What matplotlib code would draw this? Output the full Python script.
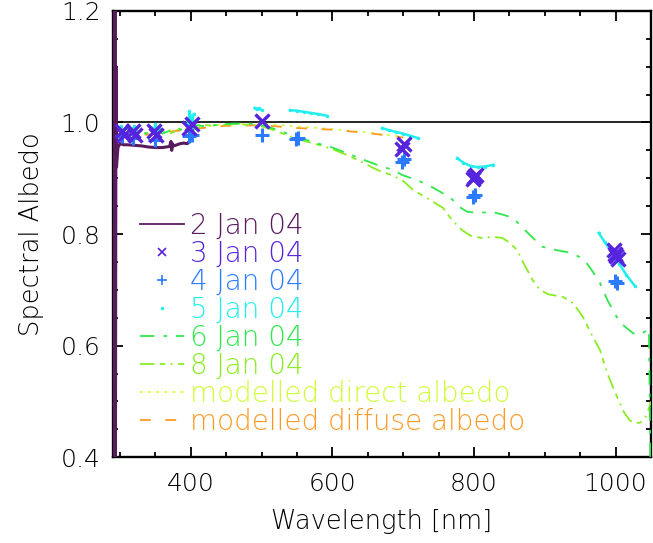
import matplotlib
matplotlib.use("Agg")
import matplotlib.pyplot as plt
from matplotlib.lines import Line2D
import numpy as np

plt.rcParams['font.family'] = ['DejaVu Sans']
plt.rcParams['font.weight'] = 'light'
plt.rcParams['axes.labelweight'] = 'light'

# ---------------- data ----------------
jan2_wl = [290, 290.7, 291.4, 292.1, 292.8, 293.5, 294.2, 295, 297, 300, 305, 310, 320, 330, 340,
           350, 360, 370, 372, 373, 374, 376, 385, 390, 395, 398, 400]
jan2_alb = [1.25, 0.35, 1.25, 0.35, 1.25, 0.35, 1.1, 0.92, 0.955, 0.962, 0.960, 0.960, 0.959, 0.958, 0.956,
            0.955, 0.955, 0.957, 0.966, 0.950, 0.962, 0.958, 0.962, 0.963, 0.962, 0.966, 0.975]

jan3_wl = [303, 306, 318, 321, 348, 351, 398, 401, 500, 698, 701, 798, 800, 803, 997, 999, 1001, 1003]
jan3_alb = [0.985, 0.978, 0.985, 0.978, 0.985, 0.978, 0.990, 0.998, 1.002, 0.953, 0.962,
            0.898, 0.903, 0.906, 0.772, 0.765, 0.760, 0.755]

jan4_wl = [303, 318, 350, 398, 401, 500, 548, 551, 698, 701, 799, 802, 999, 1002]
jan4_alb = [0.975, 0.972, 0.968, 0.975, 0.978, 0.978, 0.970, 0.972, 0.930, 0.934, 0.866, 0.870, 0.716, 0.712]

jan5_wl = [298, 300, 302, 305, 308, np.nan, 315, 318, 320, 323, np.nan, 345, 348, 350, 352, 355, np.nan,
           395, 397, 398, 400, 402, 404, np.nan, 490, 493, 496, 500, np.nan,
           540, 550, 560, 570, 580, 592, np.nan, 670, 680, 690, 700, 710, 721, np.nan,
           776, 785, 795, 805, 815, 827, np.nan, 976, 985, 995, 1005, 1015, 1027]
jan5_alb = [0.990, 0.985, 0.993, 0.980, 0.990, np.nan, 0.990, 0.982, 0.993, 0.985, np.nan,
            0.990, 0.982, 0.997, 0.985, 0.990, np.nan,
            1.005, 0.995, 1.020, 1.010, 0.998, 1.015, np.nan, 1.026, 1.024, 1.025, 1.022, np.nan,
            1.022, 1.021, 1.019, 1.017, 1.015, 1.012, np.nan, 0.990, 0.986, 0.983, 0.980, 0.976, 0.972, np.nan,
            0.936, 0.928, 0.922, 0.920, 0.921, 0.924, np.nan, 0.802, 0.785, 0.767, 0.747, 0.727, 0.707]

jan6_wl = [291.5, 292, 293, 295, 297, 300, 305, 310, 320, 330, 340, 350, 360, 370, 380, 390, 400, 410, 420,
           440, 460, 480, 500, 520, 540, 560, 580, 600, 620, 640, 663, 685, 700, 719, 738, 756, 766,
           780, 790, 805, 818, 827, 840, 855, 868, 880, 889, 897, 917, 938, 950, 959, 968, 978, 989,
           1000, 1006, 1016, 1025, 1030, 1040, 1047, 1049.5]
jan6_alb = [0.30, 1.04, 0.93, 0.99, 0.96, 0.975, 0.985, 0.975, 0.982, 0.978, 0.982, 0.985, 0.980, 0.985,
            0.990, 0.985, 0.990, 0.995, 0.993, 0.996, 0.998, 0.998, 0.995, 0.988, 0.978, 0.970, 0.962,
            0.955, 0.945, 0.935, 0.924, 0.915, 0.905, 0.897, 0.886, 0.873, 0.866, 0.848, 0.840, 0.838,
            0.839, 0.839, 0.835, 0.829, 0.812, 0.797, 0.786, 0.777, 0.771, 0.766, 0.758, 0.748, 0.732,
            0.712, 0.680, 0.655, 0.642, 0.631, 0.622, 0.619, 0.624, 0.630, 0.35]

jan8_wl = [291, 292.5, 294, 296, 300, 310, 320, 330, 340, 350, 360, 370, 380, 390, 400, 410, 420, 440,
           460, 480, 500, 520, 540, 560, 580, 600, 620, 640, 663, 685, 700, 714, 738, 756, 769, 783,
           795, 810, 827, 840, 851, 861, 869, 883, 893, 905, 918, 926, 940, 954, 966, 978, 988, 1002,
           1012, 1020, 1027, 1035, 1044, 1050]
jan8_alb = [0.30, 0.98, 0.92, 0.985, 0.970, 0.980, 0.975, 0.982, 0.978, 0.980, 0.985, 0.980, 0.985,
            0.990, 0.985, 0.990, 0.995, 0.995, 0.997, 0.996, 0.993, 0.985, 0.975, 0.967, 0.960, 0.952,
            0.942, 0.930, 0.915, 0.905, 0.895, 0.879, 0.861, 0.847, 0.825, 0.807, 0.797, 0.793, 0.795,
            0.793, 0.784, 0.771, 0.750, 0.717, 0.700, 0.692, 0.689, 0.687, 0.676, 0.651, 0.620, 0.592,
            0.551, 0.508, 0.480, 0.466, 0.461, 0.462, 0.475, 0.500]

model_wl = [300, 320, 350, 380, 400, 450, 500, 550, 600, 650, 700]
direct_alb = [0.975, 0.978, 0.983, 0.987, 0.990, 0.997, 0.998, 0.993, 0.988, 0.982, 0.974]
diffuse_alb = [0.972, 0.975, 0.980, 0.985, 0.988, 0.994, 0.995, 0.990, 0.987, 0.981, 0.973]

labels = ['2 Jan 04', '3 Jan 04', '4 Jan 04', '5 Jan 04', '6 Jan 04', '8 Jan 04',
          'modelled direct albedo', 'modelled diffuse albedo']
colors = ['#5A1A5E', '#5524DC', '#2A7BFF', '#22EEEE', '#2EE84A', '#88EE22', '#CCFF33', '#FF9922']

xticks_major = [400, 600, 800, 1000]
yticks_major = [0.4, 0.6, 0.8, 1.0, 1.2]

# ---------------- figure ----------------
fig = plt.figure(figsize=(6.53, 5.43), dpi=100)
ax = fig.add_axes([0.173, 0.158, 0.824, 0.822])

ax.axhline(1.0, color='black', lw=1.2, zorder=1)

ls6 = (0, (8, 5, 2, 5))
ls8 = (0, (8, 3, 3, 3, 1, 3))
lsdir = (0, (1.5, 3))
lsdif = (0, (6, 8))

ax.plot(model_wl, direct_alb, color=colors[6], ls=lsdir, lw=1.3, zorder=2)
ax.plot(model_wl, diffuse_alb, color=colors[7], ls=lsdif, lw=1.3, zorder=2)
ax.plot(jan8_wl, jan8_alb, color=colors[5], ls=ls8, lw=1.3, zorder=3)
ax.plot(jan6_wl, jan6_alb, color=colors[4], ls=ls6, lw=1.3, zorder=3)
ax.plot(jan2_wl, jan2_alb, color=colors[0], lw=2.2, zorder=4)
ax.plot(jan5_wl, jan5_alb, color=colors[3], lw=1.8, marker='.', ms=3, zorder=4)
ax.plot(jan4_wl, jan4_alb, color=colors[2], ls='none', marker='+', ms=10, mew=2.2, zorder=5)
ax.plot(jan3_wl, jan3_alb, color=colors[1], ls='none', marker='x', ms=10, mew=2.4, zorder=6)

ax.set_xlim(290, 1050)
ax.set_ylim(0.4, 1.2)
ax.set_xticks(xticks_major)
ax.set_xticks(np.arange(300, 1050, 50), minor=True)
ax.set_yticks(yticks_major)
ax.set_yticks(np.arange(0.4, 1.2001, 0.05), minor=True)
ax.set_xticklabels([str(v) for v in xticks_major])
ax.set_yticklabels(['%.1f' % v for v in yticks_major])
ax.tick_params(which='both', direction='in', top=True, right=True, width=1.3, colors='black',
               labelsize=18)
ax.tick_params(which='major', length=7)
ax.tick_params(which='minor', length=3.5)
ax.tick_params(axis='y', which='major', pad=9)
ax.tick_params(axis='x', which='major', pad=11)
for sp in ax.spines.values():
    sp.set_linewidth(1.7)

ax.set_xlabel('Wavelength [nm]', fontsize=18.5, labelpad=9)
ax.set_ylabel('Spectral Albedo', fontsize=18.5)
ax.yaxis.set_label_coords(-0.128, 0.5)

handles = [
    Line2D([], [], color=colors[0], lw=1.3),
    Line2D([], [], color=colors[1], ls='none', marker='x', ms=6, mew=1.2),
    Line2D([], [], color=colors[2], ls='none', marker='+', ms=7, mew=1.2),
    Line2D([], [], color=colors[3], ls='none', marker='.', ms=3),
    Line2D([], [], color=colors[4], ls=ls6, lw=1.3),
    Line2D([], [], color=colors[5], ls=ls8, lw=1.3),
    Line2D([], [], color=colors[6], ls=lsdir, lw=1.3),
    Line2D([], [], color=colors[7], ls=lsdif, lw=1.3),
]
leg = ax.legend(handles, labels, loc='upper left', bbox_to_anchor=(0.05, 0.55), frameon=False,
                fontsize=20, handlelength=1.6, handletextpad=0.2, labelspacing=0.0,
                numpoints=1, borderpad=0, borderaxespad=0)
for t, c in zip(leg.get_texts(), colors):
    t.set_color(c)

fig.savefig('out.png', dpi=100)
